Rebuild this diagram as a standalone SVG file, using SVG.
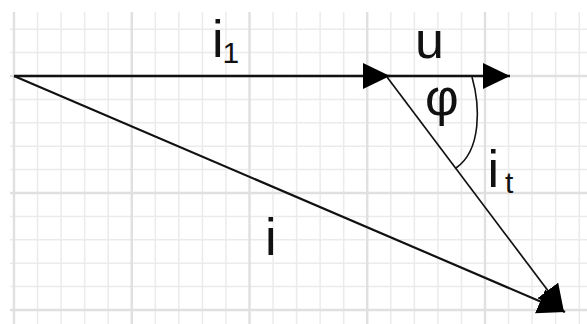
<svg xmlns="http://www.w3.org/2000/svg" width="587" height="324" viewBox="0 0 587 324">
  <style>
    .g { stroke: #ebebeb; stroke-width: 1.5; fill: none; }
    .gt { stroke: #e0e0e0; stroke-width: 2.4; fill: none; }
    .vec { stroke: #111; fill: none; stroke-linecap: butt; }
    .lbl { font-family: "Liberation Sans", Arial, sans-serif; fill: #111; }
  </style>
  <defs>
    <marker id="ah" markerUnits="userSpaceOnUse" markerWidth="28" markerHeight="26" refX="27" refY="13" orient="auto" viewBox="0 0 28 26">
      <path d="M0,0 L27,13 L0,26 Z" fill="#000"/>
    </marker>
  </defs>
  <rect width="587" height="324" fill="#fff"/>
  <g id="grid">
    <path class="g" d="M37.55 12V324M61.1 12V324M84.65 12V324M108.2 12V324M155.3 12V324M178.85 12V324M202.4 12V324M225.95 12V324M273.05 12V324M296.6 12V324M320.15 12V324M343.7 12V324M390.8 12V324M414.35 12V324M437.9 12V324M461.45 12V324M508.55 12V324M532.1 12V324M555.65 12V324M579.2 12V324"/>
    <path class="g" d="M10 29.2H587M10 52.6H587M10 99.4H587M10 122.8H587M10 146.2H587M10 169.6H587M10 216.4H587M10 239.8H587M10 263.2H587M10 286.6H587"/>
    <path class="gt" d="M14 12V324M131.75 12V324M249.5 12V324M367.25 12V324M485 12V324M10 76H587M10 193H587M10 310H587"/>
  </g>
  <g id="connectors">
    <line id="v-i1" class="vec" x1="14" y1="76" x2="390" y2="76" stroke-width="2.6" marker-end="url(#ah)"/>
    <line id="v-u" class="vec" x1="388" y1="76" x2="510" y2="76" stroke-width="2.6" marker-end="url(#ah)"/>
    <line id="v-i" class="vec" x1="14" y1="76" x2="565" y2="312" stroke-width="2.2" marker-end="url(#ah)"/>
    <line id="v-it" class="vec" x1="387" y1="77" x2="564" y2="312" stroke-width="1.7" marker-end="url(#ah)"/>
    <path id="arc-phi" class="vec" d="M472 77 C480 105, 482 150, 456 168" stroke="#222" stroke-width="1.6"/>
  </g>
  <g id="labels" class="lbl">
    <text id="t-i1" x="212" y="57" font-size="52">i<tspan font-size="30" dx="-1" dy="6">1</tspan></text>
    <text id="t-u" x="415" y="58" font-size="52">u</text>
    <text id="t-phi" x="425" y="115" font-size="52">φ</text>
    <text id="t-it" x="487.5" y="187" font-size="52">i<tspan font-size="30" dx="6" dy="6">t</tspan></text>
    <text id="t-i" x="265" y="255" font-size="52">i</text>
  </g>
</svg>
